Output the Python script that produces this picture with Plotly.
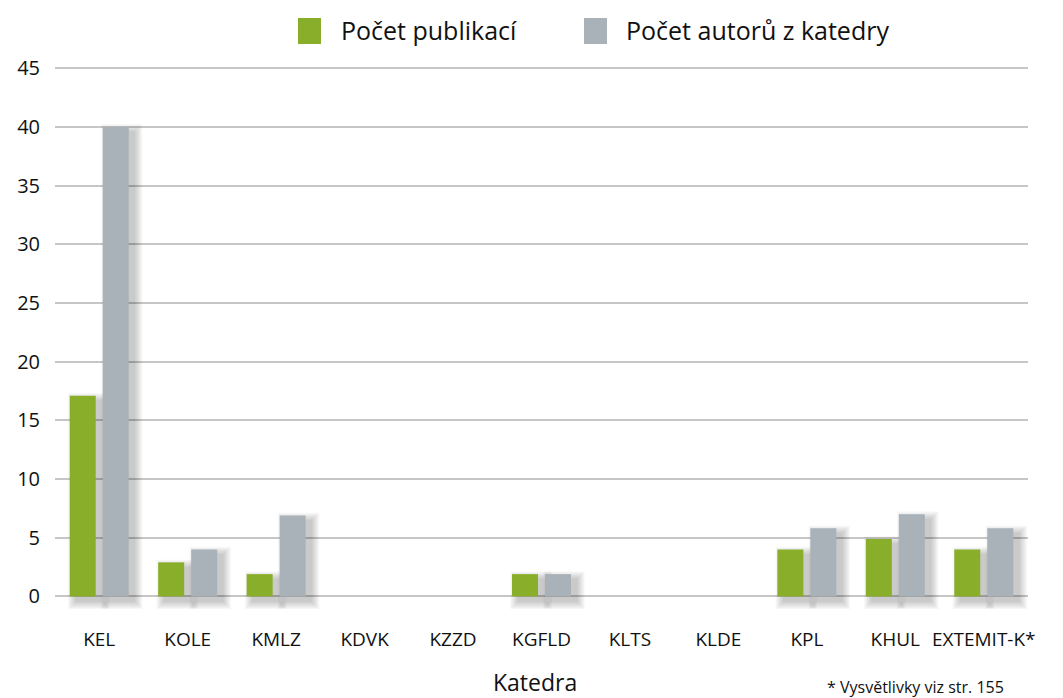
import plotly.graph_objects as go

categories = ["KEL", "KOLE", "KMLZ", "KDVK", "KZZD", "KGFLD", "KLTS", "KLDE", "KPL", "KHUL", "EXTEMIT-K*"]
publikace = [17.1, 2.9, 1.9, 0, 0, 1.9, 0, 0, 4.0, 4.9, 4.0]
autori = [40, 4.0, 6.9, 0, 0, 1.9, 0, 0, 5.8, 7.0, 5.8]
y_ticks = [0, 5, 10, 15, 20, 25, 30, 35, 40, 45]
y_ticktext = [str(v) for v in y_ticks]
series_names = ["Počet publikací", "Počet autorů z katedry"]

GREEN = "#89ae2a"
GREY = "#a8b2b8"
FONT = "Open Sans"
TXT = "#111111"

# geometry (in px, converted to axis units)
CAT_PX = 973 / 11
YRANGE = [-1.5, 45.8]
Y_PX = 555 / (YRANGE[1] - YRANGE[0])
BAR_W = 26 / CAT_PX
OFF_G = -29.5 / CAT_PX
OFF_A = 3.5 / CAT_PX

fig = go.Figure()

# soft drop shadows behind bars
for vals, off in [(publikace, OFF_G), (autori, OFF_A)]:
    for k in range(7):
        s = 0.5 + 1.2 * k
        dx, dy = 6, 5
        h = [v + 2 * s / Y_PX if v > 0 else None for v in vals]
        fig.add_trace(go.Bar(
            x=categories, y=h, base=-(dy + s) / Y_PX,
            width=BAR_W + 2 * s / CAT_PX,
            offset=off + (dx - s) / CAT_PX,
            marker=dict(color="rgba(0,0,0,0.032)", line=dict(width=0)),
            showlegend=False, hoverinfo="skip",
        ))

fig.add_trace(go.Bar(
    x=categories, y=publikace, name=series_names[0],
    width=BAR_W, offset=OFF_G,
    marker=dict(color=GREEN, line=dict(width=0)), showlegend=False,
))
fig.add_trace(go.Bar(
    x=categories, y=autori, name=series_names[1],
    width=BAR_W, offset=OFF_A,
    marker=dict(color=GREY, line=dict(width=0)), showlegend=False,
))

# legend drawn at top
legend_items = [(GREEN, series_names[0], 298, 339), (GREY, series_names[1], 584, 624)]
for color, name, sx, tx in legend_items:
    fig.add_shape(type="rect", xref="paper", yref="paper",
                  x0=(sx - 55) / 973, x1=(sx + 23 - 55) / 973,
                  y0=(698 - 84 - 44) / 555, y1=(698 - 84 - 18) / 555,
                  fillcolor=color, line=dict(width=0))
    fig.add_annotation(text=name, xref="paper", yref="paper",
                       x=(tx - 55) / 973, y=(698 - 84 - 30) / 555,
                       xanchor="left", yanchor="middle", showarrow=False,
                       font=dict(family=FONT, size=25, color=TXT))

fig.add_annotation(text="Katedra", xref="paper", yref="paper",
                   x=(535 - 55) / 973, y=(698 - 84 - 682) / 555,
                   xanchor="center", yanchor="middle", showarrow=False,
                   font=dict(family=FONT, size=23, color=TXT))
fig.add_annotation(text="* Vysvětlivky viz str. 155", xref="paper", yref="paper",
                   x=(1006 - 55) / 973, y=(698 - 84 - 687) / 555,
                   xanchor="right", yanchor="middle", showarrow=False,
                   font=dict(family=FONT, size=16, color=TXT))

fig.update_layout(
    width=1063, height=698,
    margin=dict(l=55, r=35, t=59, b=84),
    barmode="overlay",
    plot_bgcolor="white", paper_bgcolor="white",
    font=dict(family=FONT, color=TXT),
    xaxis=dict(type="category", showgrid=False, zeroline=False, showline=False,
               ticks="outside", ticklen=8, tickcolor="rgba(0,0,0,0)",
               tickfont=dict(family=FONT, size=19, color=TXT)),
    yaxis=dict(range=YRANGE, tickvals=y_ticks, ticktext=y_ticktext,
               showgrid=True, gridcolor="#c6c6c6", gridwidth=1.5,
               zeroline=False, showline=False,
               ticks="outside", ticklen=10, tickcolor="rgba(0,0,0,0)",
               tickfont=dict(family=FONT, size=20, color=TXT)),
)

fig.write_html("out.html", config={"displayModeBar": False})

# remove default page margin so the figure sits at the window origin
with open("out.html", "r", encoding="utf-8") as f:
    html = f.read()
html = html.replace("<body>", '<body style="margin:0;padding:0;overflow:hidden">', 1)
with open("out.html", "w", encoding="utf-8") as f:
    f.write(html)
